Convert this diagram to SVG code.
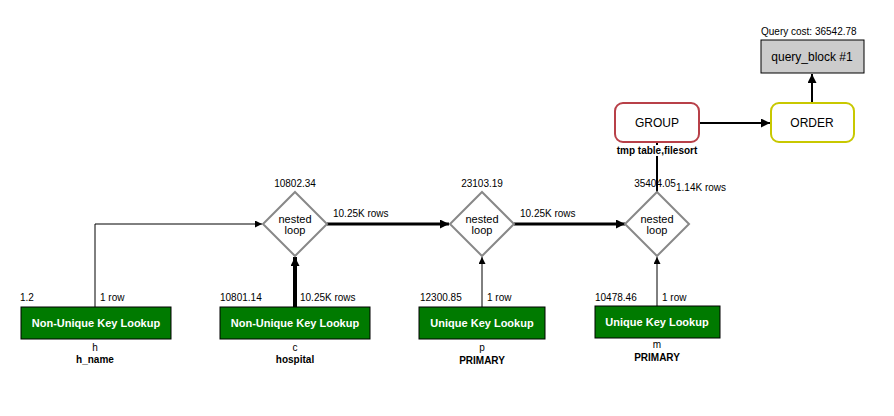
<svg xmlns="http://www.w3.org/2000/svg" width="894" height="416" viewBox="0 0 894 416">
<style>
text{font-family:"Liberation Sans",Arial,sans-serif;fill:#000}
.s{font-size:10px}
.b{font-size:10px;font-weight:bold}
.t{font-size:11px;font-weight:bold;fill:#fff}
.d{fill:#fff;stroke:#888;stroke-width:2}
.g{fill:#007a00;stroke:#000;stroke-width:1}
.e{fill:none;stroke:#000}
.n{font-size:11px}
</style>
<defs>
<marker id="a" viewBox="0 0 10 10" refX="10" refY="5" markerWidth="10" markerHeight="7" markerUnits="userSpaceOnUse" orient="auto"><path d="M0,0L10,5L0,10z" fill="#000"/></marker>
<marker id="a2" viewBox="0 0 10 10" refX="10" refY="5" markerWidth="12" markerHeight="9" markerUnits="userSpaceOnUse" orient="auto"><path d="M0,0L10,5L0,10z" fill="#000"/></marker>
</defs>
<g id="connectors">
<path class="e" stroke-width="1" d="M95,307V224H262" marker-end="url(#a)"/>
<path class="e" stroke-width="4" d="M295,307V257" marker-end="url(#a2)"/>
<path class="e" stroke-width="3" d="M327,224H449" marker-end="url(#a2)"/>
<path class="e" stroke-width="1" d="M482,307V257" marker-end="url(#a)"/>
<path class="e" stroke-width="3" d="M514,224H625" marker-end="url(#a2)"/>
<path class="e" stroke-width="1" d="M657,307V257" marker-end="url(#a)"/>
<path class="e" stroke-width="2" d="M657,192V143" marker-end="url(#a2)"/>
<path class="e" stroke-width="2" d="M699,123H770" marker-end="url(#a2)"/>
<path class="e" stroke-width="2" d="M812,103V74" marker-end="url(#a2)"/>
<text class="s" x="100" y="301">1 row</text>
<text class="s" x="300" y="301">10.25K rows</text>
<text class="s" x="333" y="217">10.25K rows</text>
<text class="s" x="487" y="301">1 row</text>
<text class="s" x="520" y="217">10.25K rows</text>
<text class="s" x="662" y="301">1 row</text>
<text class="s" x="676" y="191">1.14K rows</text>
</g>
<g id="query_block">
<text class="s" x="761" y="35" font-size="10.4">Query cost: 36542.78</text>
<rect x="761" y="40" width="103" height="33" fill="#ccc" stroke="#000"/>
<text x="812" y="61" font-size="12" text-anchor="middle">query_block #1</text>
</g>
<g id="order">
<rect x="771" y="103" width="83" height="39" rx="8" fill="#fff" stroke="#c8c800" stroke-width="2"/>
<text x="812" y="127" font-size="12" text-anchor="middle">ORDER</text>
</g>
<g id="group">
<rect x="615" y="103" width="84" height="39" rx="8" fill="#fff" stroke="#b84048" stroke-width="2"/>
<text x="657" y="127" font-size="12" text-anchor="middle">GROUP</text>
<rect x="615" y="145" width="84" height="11" fill="#fff"/>
<text class="b" x="657" y="154" text-anchor="middle">tmp table,filesort</text>
</g>
<g id="nl1">
<text class="s" x="295" y="187" text-anchor="middle">10802.34</text>
<path class="d" d="M295,192L327,224L295,256L263,224z"/>
<text class="n" x="295" y="223" text-anchor="middle">nested</text>
<text class="n" x="295" y="234" text-anchor="middle">loop</text>
</g>
<g id="nl2">
<text class="s" x="482" y="187" text-anchor="middle">23103.19</text>
<path class="d" d="M482,192L514,224L482,256L450,224z"/>
<text class="n" x="482" y="223" text-anchor="middle">nested</text>
<text class="n" x="482" y="234" text-anchor="middle">loop</text>
</g>
<g id="nl3">
<text class="s" x="655" y="187" text-anchor="middle">35404.05</text>
<path class="d" d="M657,192L689,224L657,256L625,224z"/>
<text class="n" x="657" y="223" text-anchor="middle">nested</text>
<text class="n" x="657" y="234" text-anchor="middle">loop</text>
</g>
<g id="h">
<text class="s" x="20" y="301">1.2</text>
<rect class="g" x="21" y="307" width="150" height="32"/>
<text class="t" x="96" y="327" text-anchor="middle">Non-Unique Key Lookup</text>
<text class="s" x="95" y="351" text-anchor="middle">h</text>
<text class="b" x="95" y="363" text-anchor="middle">h_name</text>
</g>
<g id="c">
<text class="s" x="220" y="301">10801.14</text>
<rect class="g" x="220" y="307" width="150" height="32"/>
<text class="t" x="295" y="327" text-anchor="middle">Non-Unique Key Lookup</text>
<text class="s" x="295" y="351" text-anchor="middle">c</text>
<text class="b" x="295" y="363" text-anchor="middle">hospital</text>
</g>
<g id="p">
<text class="s" x="420" y="301">12300.85</text>
<rect class="g" x="419" y="307" width="126" height="32"/>
<text class="t" x="482" y="327" text-anchor="middle">Unique Key Lookup</text>
<text class="s" x="482" y="351" text-anchor="middle">p</text>
<text class="b" x="482" y="364" text-anchor="middle">PRIMARY</text>
</g>
<g id="m">
<text class="s" x="595" y="301">10478.46</text>
<rect class="g" x="595" y="306" width="125" height="32"/>
<text class="t" x="657" y="326" text-anchor="middle">Unique Key Lookup</text>
<text class="s" x="657" y="348" text-anchor="middle">m</text>
<text class="b" x="657" y="361" text-anchor="middle">PRIMARY</text>
</g>
</svg>
